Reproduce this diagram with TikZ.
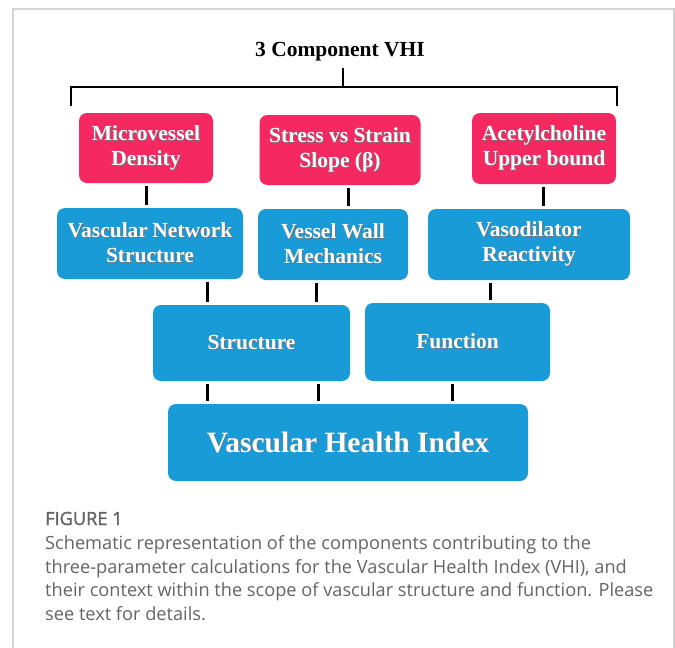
\documentclass[tikz,border=0pt]{standalone}
\usepackage{fontspec}
\setmainfont{Liberation Serif}
\newfontfamily\capfont{Open Sans}
\newfontfamily\capbold{Open Sans}[FakeBold=1.6]
\definecolor{pinkbox}{RGB}{246,40,98}
\definecolor{bluebox}{RGB}{25,155,215}
\definecolor{framegray}{RGB}{212,212,212}
\definecolor{capgray}{RGB}{100,100,100}
\newcommand\shd[1]{\leavevmode\rlap{\kern0.9pt\raisebox{-0.9pt}{\color{black!55}#1}}#1}
\tikzset{
  box/.style={rectangle, rounded corners=8pt, draw=none, text=white,
    font=\bfseries\fontsize{21.5}{25}\selectfont, align=center, inner sep=0pt},
  pinkb/.style={box, fill=pinkbox},
  blueb/.style={box, fill=bluebox},
  conn/.style={line width=3pt, black, shorten <=2.5pt, shorten >=2.5pt},
  brk/.style={line width=2pt, black},
  captext/.style={anchor=base west, inner sep=0pt, text=capgray,
    font=\capfont\fontsize{18.2}{23}\selectfont},
}
\begin{document}
\begin{tikzpicture}[x=1pt, y=-1pt]
\useasboundingbox (0,0) rectangle (675,648);
% frame
\draw[framegray, line width=1.5pt] (13,648) -- (13,9) -- (674,9) -- (674,648);
% title and bracket
\node[anchor=base, inner sep=0pt, font=\bfseries\fontsize{21.5}{25}\selectfont] (t) at (340,56) {3 Component VHI};
\coordinate (st) at (343,68);
\coordinate (hl) at (71,87);
\coordinate (hr) at (617,87);
\coordinate (bl) at (71,106);
\coordinate (br) at (617,106);
\draw[brk] (st) -- (st |- hl);
\draw[brk] (bl) -- (hl) -- (hr) -- (br);
% pink boxes
\node[pinkb, minimum width=134pt, minimum height=70pt] (p1) at (146,148) {\shd{Microvessel}\\\shd{Density}};
\node[pinkb, minimum width=161pt, minimum height=70pt] (p2) at (340,150) {\shd{Stress vs Strain}\\\shd{Slope (β)}};
\node[pinkb, minimum width=144pt, minimum height=71pt] (p3) at (544,148.5) {\shd{Acetylcholine}\\\shd{Upper bound}};
% blue row
\node[blueb, minimum width=186pt, minimum height=71pt] (b1) at (150,243.5) {\shd{Vascular\kern-1pt{} Network}\\\shd{Structure}};
\node[blueb, minimum width=150pt, minimum height=71pt] (b2) at (333,244.5) {\shd{Vessel Wall}\\\shd{Mechanics}};
\node[blueb, minimum width=202pt, minimum height=71pt] (b3) at (529,244.5) {\shd{Vasodilator}\\\shd{Reactivity}};
% structure / function
\node[blueb, minimum width=197pt, minimum height=76pt] (s) at (251.5,343) {\shd{Structure}};
\node[blueb, minimum width=185pt, minimum height=78pt] (f) at (457.5,342) {\shd{Function}};
% VHI
\node[blueb, minimum width=360pt, minimum height=77pt, font=\bfseries\fontsize{29.5}{34}\selectfont] (v) at (348,442.5) {\shd{Vascular Health Index}};
% connectors
\draw[conn] (p1.south) -- (p1.south |- b1.north);
\draw[conn] ([xshift=8pt]p2.south) -- ([xshift=8pt]p2.south |- b2.north);
\draw[conn] ([xshift=-1pt]p3.south) -- ([xshift=-1pt]p3.south |- b3.north);
\draw[conn] ([xshift=57pt]b1.south) -- ([xshift=57pt]b1.south |- s.north);
\draw[conn] ([xshift=-17pt]b2.south) -- ([xshift=-17pt]b2.south |- s.north);
\draw[conn] ([xshift=-39pt]b3.south) -- ([xshift=-39pt]b3.south |- f.north);
\draw[conn] ([xshift=-44.5pt]s.south) -- ([xshift=-44.5pt]s.south |- v.north);
\draw[conn] ([xshift=66.5pt]s.south) -- ([xshift=66.5pt]s.south |- v.north);
\draw[conn] ([xshift=-5.5pt]f.south) -- ([xshift=-5.5pt]f.south |- v.north);
% caption
\node[captext, font=\capbold\fontsize{18.2}{23}\selectfont] (c0) at (45,525) {FIGURE 1};
\node[captext] (c1) at (45,549) {Schematic representation of the components contributing to the};
\node[captext] (c2) at (45,573) {three-parameter calculations for the Vascular Health Index (VHI), and};
\node[captext] (c3) at (45,596.5) {their context within the scope of vascular structure and function. Please};
\node[captext] (c4) at (45,620) {see text for details.};
\end{tikzpicture}
\end{document}
